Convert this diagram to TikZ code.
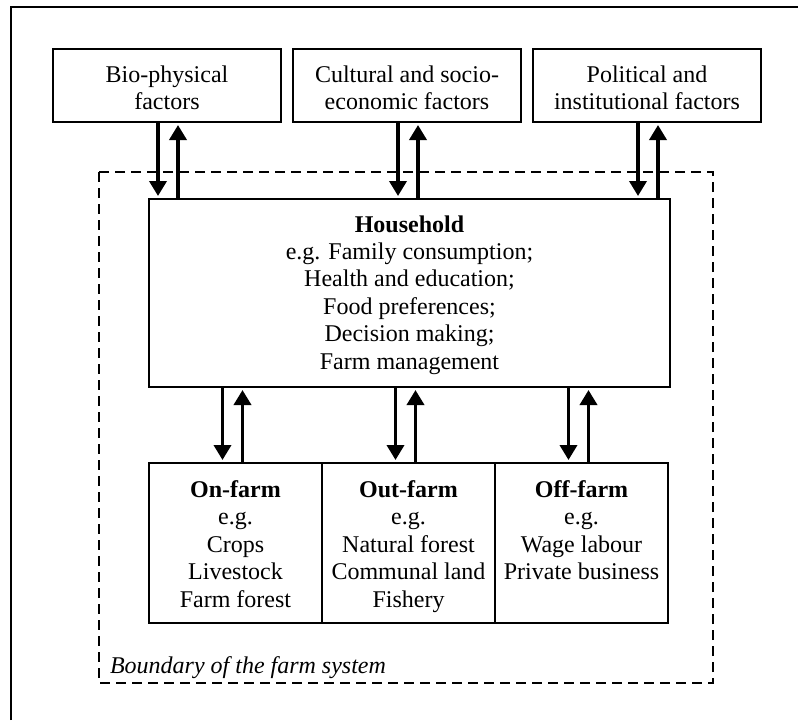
\documentclass[tikz,border=0pt]{standalone}
\usepackage{fontspec}
\setmainfont{Liberation Serif}
\usetikzlibrary{arrows.meta,positioning}

\begin{document}
\begin{tikzpicture}[x=0.5pt, y=-0.5pt,
	every node/.style={font=\fontsize{12}{13.7}\selectfont, align=center, inner sep=0pt, outer sep=0pt},
	factor/.style={draw, line width=0.6pt, minimum width=114pt, minimum height=36.5pt, font=\fontsize{12}{13.5}\selectfont},
	part/.style={draw, line width=0.6pt, minimum width=86.5pt, minimum height=80pt, font=\fontsize{12}{13.8}\selectfont},
	flow/.style={line width=1.8pt, -{Triangle[length=7.5pt,width=8.5pt]}, shorten >=1.5pt}]
	\useasboundingbox (0,0) rectangle (798,720);
	\draw[line width=0.6pt] (11,720) |- (798,7);
	\draw[line width=1.4pt, dash pattern=on 5pt off 3pt] (99,172) rectangle (713,683);
	\node[factor] (bio) at (167,85.5) {\rule{0pt}{11pt}Bio-physical\\factors};
	\node[factor] (cult) at (407,85.5) {\rule{0pt}{11pt}Cultural and socio-\\economic factors};
	\node[factor] (pol) at (647,85.5) {\rule{0pt}{11pt}Political and\\institutional factors};
	\node[draw, line width=0.6pt, minimum width=260.5pt, minimum height=94pt] (hh) at (409.5,293)
	  {\rule{0pt}{10.2pt}\textbf{Household}\\e.g. Family consumption;\\Health and education;\\Food preferences;\\Decision making;\\Farm management};
	\node[part] (on) at (235.5,543) {\rule{0pt}{11.8pt}\textbf{On-farm}\\e.g.\\Crops\\Livestock\\Farm forest\vphantom{y}};
	\node[part, right=0pt of on] (out) {\rule{0pt}{11.8pt}\textbf{Out-farm}\\e.g.\\Natural forest\\Communal land\\Fishery};
	\node[part, right=0pt of out] (off) {\rule{0pt}{11.8pt}\textbf{Off-farm}\\e.g.\\Wage labour\\Private business\\\vphantom{y}};
	\node[anchor=base west, font=\fontsize{12}{13.8}\selectfont\itshape] (bnd) at (110,673) {Boundary of the farm system};
	\foreach \f in {bio,cult,pol} {
		\draw[flow] ([xshift=-4.5pt]\f.south) -- ([xshift=-4.5pt]\f.south |- hh.north);
		\draw[flow] ([xshift=5.5pt]\f.south |- hh.north) -- ([xshift=5.5pt]\f.south);
	}
	\foreach \p in {on,out,off} {
		\draw[flow] ([xshift=-6.5pt]\p.north |- hh.south) -- ([xshift=-6.5pt]\p.north);
		\draw[flow] ([xshift=3.5pt]\p.north) -- ([xshift=3.5pt]\p.north |- hh.south);
	}
\end{tikzpicture}
\end{document}
